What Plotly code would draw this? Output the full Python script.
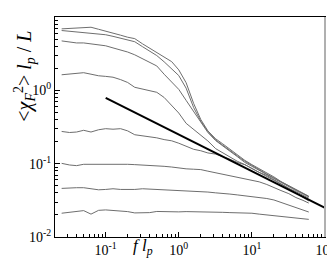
import plotly.graph_objects as go

# common frequency grid f*l_p
f_lp = [0.025, 0.032, 0.04, 0.05, 0.063, 0.08, 0.1, 0.126, 0.16, 0.2, 0.25, 0.32, 0.4, 0.5,
        0.63, 0.8, 1.0, 1.26, 1.6, 2.0, 2.5, 3.2, 4.0, 5.0, 6.3, 8.0, 10.0, 12.6, 16.0, 20.0,
        25.0, 32.0, 40.0, 50.0, 60.0]

curve1 = [6.89, 6.95, 7.0, 7.1, 7.25, 6.8, 6.45, 6.09, 5.65, 5.3, 5.07, 4.3, 3.75, 3.27,
          2.84, 2.46, 1.90, 1.27, 0.66, 0.40, 0.28, 0.218, 0.186, 0.157, 0.133, 0.111, 0.097,
          0.086, 0.075, 0.066, 0.057, 0.050, 0.045, 0.040, 0.036]
curve2 = [6.54, 6.4, 6.2, 6.1, 6.07, 5.9, 5.73, 5.45, 5.13, 4.85, 4.6, 3.93, 3.45, 2.98,
          2.45, 1.98, 1.59, 1.07, 0.58, 0.38, 0.275, 0.21, 0.18, 0.152, 0.128, 0.108, 0.094,
          0.083, 0.072, 0.064, 0.0565, 0.049, 0.044, 0.039, 0.0355]
curve3 = [4.72, 4.55, 4.43, 4.43, 4.3, 4.17, 4.05, 3.79, 3.57, 3.33, 3.05, 2.7, 2.41, 2.15,
          1.66, 1.3, 1.03, 0.73, 0.51, 0.363, 0.266, 0.206, 0.173, 0.148, 0.125, 0.104, 0.092,
          0.081, 0.071, 0.063, 0.056, 0.048, 0.043, 0.039, 0.0355]
curve4 = [1.63, 1.68, 1.72, 1.74, 1.66, 1.58, 1.55, 1.51, 1.4, 1.28, 1.1, 1.04, 0.99, 0.94,
          0.80, 0.63, 0.49, 0.355, 0.29, 0.24, 0.204, 0.16, 0.141, 0.123, 0.108, 0.097, 0.086,
          0.076, 0.067, 0.059, 0.052, 0.046, 0.0415, 0.037, 0.034]
curve5 = [0.275, 0.266, 0.27, 0.285, 0.27, 0.29, 0.30, 0.295, 0.30, 0.28, 0.248, 0.24, 0.235,
          0.225, 0.213, 0.205, 0.19, 0.175, 0.157, 0.15, 0.14, 0.135, 0.125, 0.115, 0.104,
          0.097, 0.086, 0.076, 0.069, 0.061, 0.053, 0.046, 0.040, 0.0345, 0.031]
curve6 = [0.101, 0.096, 0.094, 0.098, 0.098, 0.098, 0.098, 0.099, 0.100, 0.098, 0.097, 0.096,
          0.095, 0.094, 0.092, 0.090, 0.087, 0.085, 0.084, 0.083, 0.079, 0.075, 0.072, 0.069,
          0.066, 0.062, 0.060, 0.0565, 0.052, 0.047, 0.043, 0.039, 0.0345, 0.0316, 0.029]
curve7 = [0.046, 0.047, 0.047, 0.047, 0.046, 0.044, 0.0445, 0.0455, 0.0445, 0.044, 0.0445,
          0.0455, 0.045, 0.045, 0.0445, 0.044, 0.0435, 0.043, 0.0425, 0.042, 0.041, 0.040,
          0.0395, 0.0385, 0.0375, 0.0365, 0.0355, 0.0345, 0.0335, 0.032, 0.0296, 0.0271,
          0.025, 0.0232, 0.0219]
curve8 = [0.0211, 0.0218, 0.0226, 0.0229, 0.0205, 0.0231, 0.0234, 0.0231, 0.0227, 0.0222,
          0.0213, 0.0212, 0.0215, 0.0223, 0.0222, 0.0218, 0.022, 0.0222, 0.0222, 0.0221, 0.022,
          0.0219, 0.0217, 0.0215, 0.0214, 0.0212, 0.0211, 0.0205, 0.0200, 0.0197, 0.0194,
          0.0190, 0.0183, 0.0178, 0.0174]

slope_x = [0.1, 100.0]
slope_y = [0.79, 0.025]

x_tickvals = [0.1, 1, 10, 100]
x_ticktext = ["10<sup>-1</sup>", "10<sup>0</sup>", "10<sup>1</sup>", "10<sup>2</sup>"]
y_tickvals = [0.01, 0.1, 1, 10]
y_ticktext = ["10<sup>-2</sup>", "10<sup>-1</sup>", "10<sup>0</sup>", "10<sup>1</sup>"]
minor_vals = [m * 10 ** e for e in range(-3, 3) for m in range(2, 10)]

fig = go.Figure()
for c in [curve1, curve2, curve3, curve4, curve5, curve6, curve7, curve8]:
    fig.add_trace(go.Scatter(x=f_lp, y=c, mode="lines",
                             line=dict(color="#6e6e6e", width=1), showlegend=False))
fig.add_trace(go.Scatter(x=slope_x, y=slope_y, mode="lines",
                         line=dict(color="black", width=2), showlegend=False))

font_serif = "Liberation Serif, Times New Roman, serif"
axis_common = dict(type="log", showgrid=False, zeroline=False, showline=True,
                   linecolor="black", linewidth=1, mirror=True, ticks="inside",
                   ticklen=5, tickcolor="black", tickmode="array",
                   tickfont=dict(family=font_serif, size=14, color="black"),
                   minor=dict(tickmode="array", tickvals=minor_vals, ticks="inside",
                              ticklen=3, tickcolor="black", showgrid=False))

fig.update_layout(
    width=335, height=258,
    margin=dict(l=47, r=10, t=8, b=27),
    paper_bgcolor="white", plot_bgcolor="white",
    xaxis=dict(range=[-1.693, 2], tickvals=x_tickvals, ticktext=x_ticktext, **axis_common),
    yaxis=dict(range=[-2, 1], tickvals=y_tickvals, ticktext=y_ticktext, **axis_common),
    showlegend=False,
)
fig.add_shape(type="line", xref="paper", yref="paper", x0=1, x1=1, y0=0, y1=1,
              line=dict(color="#b0b0b0", width=2), layer="above")
fig.add_annotation(text="&lt;<i>χ</i><sub><i>F</i></sub><sup>2</sup>&gt; <i>l</i><sub><i>p</i></sub> / <i>L</i>",
                   xref="paper", yref="paper", x=-0.11, y=0.73, textangle=-90,
                   showarrow=False, xanchor="center", yanchor="middle",
                   font=dict(family=font_serif, size=20, color="black"))
fig.add_annotation(text="<i>f</i> <i>l</i><sub><i>p</i></sub>",
                   xref="paper", yref="paper", x=0.325, y=-0.045,
                   showarrow=False, xanchor="center", yanchor="middle",
                   font=dict(family=font_serif, size=17, color="black"))
fig.write_html("out.html")
